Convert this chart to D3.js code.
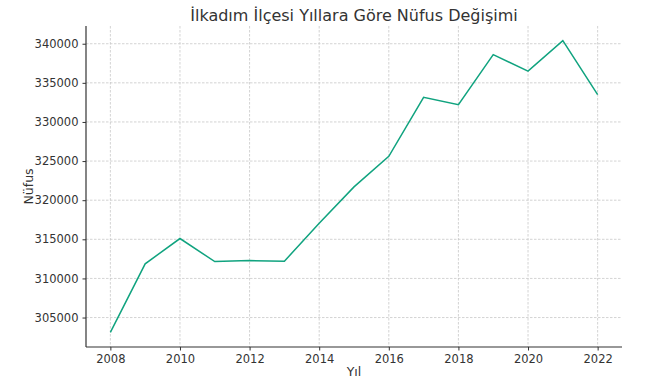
<!DOCTYPE html>
<meta charset="utf-8">
<script src="https://d3js.org/d3.v7.min.js"></script>
<style>
  body { margin: 0; background: #fff; }
  svg text { font-family: "DejaVu Sans", sans-serif; fill: #333; }
</style>
<div id="chart"></div>
<script>
// data
const years = [2008, 2009, 2010, 2011, 2012, 2013, 2014, 2015, 2016, 2017, 2018, 2019, 2020, 2021, 2022];
const population = [303100, 311870, 315100, 312150, 312280, 312200, 317050, 321700, 325600, 333150, 332200, 338600, 336500, 340400, 333500];
const xTicks = [2008, 2010, 2012, 2014, 2016, 2018, 2020, 2022];
const yTicks = [305000, 310000, 315000, 320000, 325000, 330000, 335000, 340000];

const W = 645, H = 383;
const margin = {top: 26, right: 23, bottom: 36, left: 86};
const width = W - margin.left - margin.right,
      height = H - margin.top - margin.bottom;

const svg = d3.select("#chart").append("svg")
    .attr("width", W).attr("height", H);
const g = svg.append("g").attr("transform", `translate(${margin.left},${margin.top})`);

// matplotlib style 5% margins
const xmin = d3.min(years), xmax = d3.max(years);
const ymin = d3.min(population), ymax = d3.max(population);
const xpad = (xmax - xmin) * 0.05, ypad = (ymax - ymin) * 0.05;

const x = d3.scaleLinear().domain([xmin - xpad, xmax + xpad]).range([0, width]);
const y = d3.scaleLinear().domain([ymin - ypad, ymax + ypad]).range([height, 0]);

// grid
g.append("g").selectAll("line").data(xTicks).join("line")
    .attr("x1", d => x(d)).attr("x2", d => x(d))
    .attr("y1", 0).attr("y2", height)
    .attr("stroke", "#c8c8c8").attr("stroke-width", 0.8).attr("stroke-dasharray", "2.5,1.5");
g.append("g").selectAll("line").data(yTicks).join("line")
    .attr("y1", d => y(d)).attr("y2", d => y(d))
    .attr("x1", 0).attr("x2", width)
    .attr("stroke", "#c8c8c8").attr("stroke-width", 0.8).attr("stroke-dasharray", "2.5,1.5");

// axes
const xAxis = g.append("g")
    .attr("transform", `translate(0,${height})`)
    .call(d3.axisBottom(x).tickValues(xTicks).tickFormat(d3.format("d")).tickSize(3.5).tickPadding(4));
const yAxis = g.append("g")
    .call(d3.axisLeft(y).tickValues(yTicks).tickFormat(d3.format("d")).tickSize(3.5).tickPadding(4));
[xAxis, yAxis].forEach(a => {
    a.selectAll("text").style("font-size", "11.5px").attr("fill", "#333");
    a.selectAll("line").attr("stroke", "#333");
    a.select(".domain").attr("stroke", "#333").attr("stroke-width", 1.2);
});
xAxis.select(".domain").attr("d", `M0,0H${width}`);
yAxis.select(".domain").attr("d", `M0,0V${height}`);

// line
g.append("path")
    .datum(years.map((d, i) => [d, population[i]]))
    .attr("d", d3.line().x(d => x(d[0])).y(d => y(d[1])))
    .attr("fill", "none")
    .attr("stroke", "#10a37f")
    .attr("stroke-width", 1.5);

// labels
svg.append("text")
    .attr("x", margin.left + width / 2).attr("y", 21)
    .attr("text-anchor", "middle")
    .style("font-size", "16px")
    .text("İlkadım İlçesi Yıllara Göre Nüfus Değişimi");
svg.append("text")
    .attr("x", margin.left + width / 2).attr("y", 376)
    .attr("text-anchor", "middle")
    .style("font-size", "12.5px")
    .text("Yıl");
svg.append("text")
    .attr("transform", `translate(33,${margin.top + height / 2}) rotate(-90)`)
    .attr("text-anchor", "middle")
    .style("font-size", "12.5px")
    .text("Nüfus");
</script>
